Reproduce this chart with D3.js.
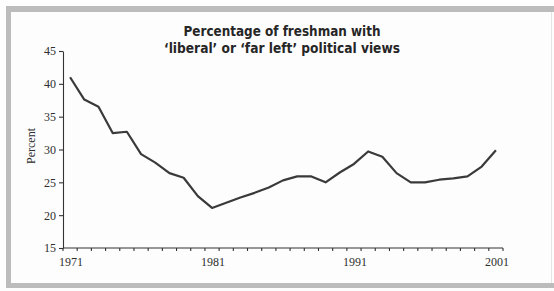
<!DOCTYPE html>
<html>
<head>
<meta charset="utf-8">
<script src="https://cdn.jsdelivr.net/npm/d3@7"></script>
<style>
  html, body { margin: 0; padding: 0; background: #fdfdfd; }
  svg { display: block; }
</style>
</head>
<body>
<div id="chart"></div>
<script>
// data
var years = d3.range(1971, 2002);
var percent = [41.0, 37.6, 36.5, 32.5, 32.7, 29.3, 28.0, 26.4, 25.7, 22.9,
               21.1, 21.9, 22.7, 23.4, 24.2, 25.3, 25.9, 25.9, 25.0, 26.5,
               27.8, 29.7, 28.9, 26.4, 25.0, 25.0, 25.4, 25.6, 25.9, 27.4, 29.9];
var yTicks = [15, 20, 25, 30, 35, 40, 45];
var xLabels = [1971, 1981, 1991, 2001];
var titleLines = ["Percentage of freshman with", "\u2018liberal\u2019 or \u2018far left\u2019 political views"];

var W = 554, H = 291;
var margin = {left: 63, right: 51, top: 51, bottom: 43};

var svg = d3.select("#chart").append("svg")
    .attr("width", W)
    .attr("height", H);

// grey frame
var frame = "#bcbcbc";
svg.append("rect").attr("x", 6).attr("y", 6).attr("width", 548).attr("height", 6).attr("fill", frame);
svg.append("rect").attr("x", 6).attr("y", 6).attr("width", 5).attr("height", 282).attr("fill", frame);
svg.append("rect").attr("x", 6).attr("y", 283).attr("width", 548).attr("height", 5).attr("fill", frame);
svg.append("rect").attr("x", 551).attr("y", 12).attr("width", 1).attr("height", 271).attr("fill", "#e4e4e4");

var x = d3.scaleBand()
    .domain(years)
    .range([margin.left, W - margin.right]);

var y = d3.scaleLinear()
    .domain([15, 45])
    .range([H - margin.bottom, margin.top]);

// y axis
var yAxis = svg.append("g")
    .attr("transform", "translate(" + margin.left + ",0)")
    .call(d3.axisLeft(y).tickValues(yTicks).tickSize(4).tickSizeOuter(0).tickPadding(3));

// x axis, ticks between categories
var xAxis = svg.append("g")
    .attr("transform", "translate(0," + (H - margin.bottom) + ")");
xAxis.append("line")
    .attr("x1", margin.left).attr("x2", W - margin.right)
    .attr("y1", 0).attr("y2", 0);
xAxis.selectAll(".tk")
    .data(years.concat([2002]))
    .enter().append("line")
    .attr("class", "tk")
    .attr("x1", function(d){ return d > 2001 ? x.range()[1] : x(d); })
    .attr("x2", function(d){ return d > 2001 ? x.range()[1] : x(d); })
    .attr("y1", 0).attr("y2", 3);
xAxis.selectAll(".lb")
    .data(xLabels)
    .enter().append("text")
    .attr("class", "lb")
    .attr("x", function(d){ return x(d) + x.bandwidth() / 2 + 1; })
    .attr("y", 18)
    .attr("text-anchor", "middle")
    .text(function(d){ return d; });

svg.selectAll(".domain, line").attr("stroke", "#333").attr("stroke-width", 1.1);
svg.selectAll("g text")
    .style("font-family", "Liberation Serif, Times New Roman, serif")
    .style("font-size", "12px")
    .attr("fill", "#2e2e2e");

// y label
svg.append("text")
    .attr("transform", "translate(35,146) rotate(-90)")
    .attr("text-anchor", "middle")
    .style("font-family", "Liberation Serif, Times New Roman, serif")
    .style("font-size", "12px")
    .attr("fill", "#2e2e2e")
    .text("Percent");

// the line
var line = d3.line()
    .x(function(d, i){ return x(years[i]) + x.bandwidth() / 2; })
    .y(function(d){ return y(d); });

svg.append("path")
    .datum(percent)
    .attr("d", line)
    .attr("fill", "none")
    .attr("stroke", "#3a3a3a")
    .attr("stroke-width", 2.2)
    .attr("stroke-linejoin", "round");

// title
var tw = [197, 236];
svg.selectAll(".title")
    .data(titleLines)
    .enter().append("text")
    .attr("class", "title")
    .attr("x", 282)
    .attr("y", function(d, i){ return 35.5 + i * 17; })
    .attr("text-anchor", "middle")
    .attr("textLength", function(d, i){ return tw[i]; })
    .attr("lengthAdjust", "spacingAndGlyphs")
    .style("font-family", "DejaVu Sans Condensed, DejaVu Sans, sans-serif")
    .style("font-weight", "bold")
    .style("font-size", "14px")
    .attr("fill", "#262626")
    .text(function(d){ return d; });
</script>
</body>
</html>
